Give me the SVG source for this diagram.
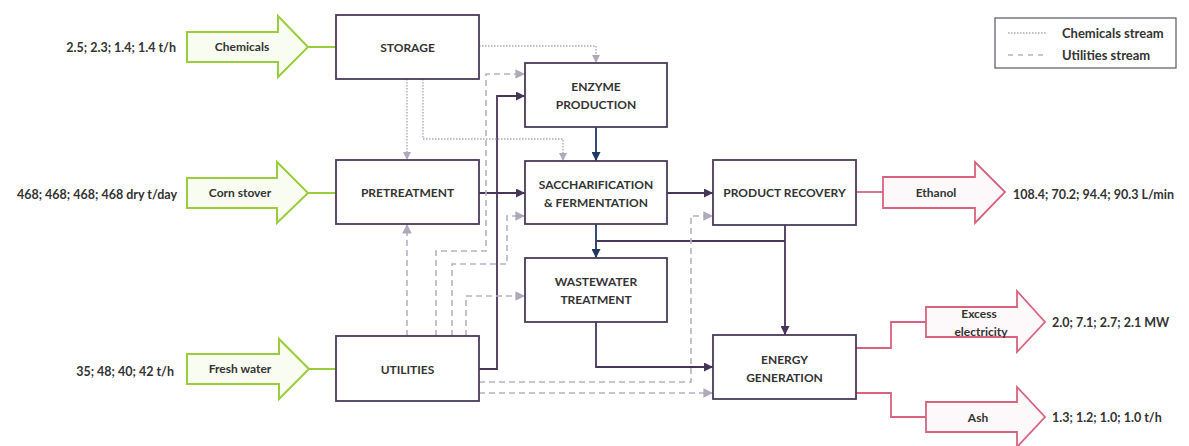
<svg xmlns="http://www.w3.org/2000/svg" width="1189" height="446" viewBox="0 0 1189 446">
<defs>
<style>
.box{fill:#fff;stroke:#4a3b5a;stroke-width:1.8}
.lbl{font-family:Lato,"Liberation Sans",sans-serif;font-weight:700;font-size:12px;fill:#333;text-anchor:middle;dominant-baseline:central}
.side{font-family:Lato,"Liberation Sans",sans-serif;font-weight:700;font-size:12.5px;fill:#333;dominant-baseline:central}
.green{fill:#f9fcf0;stroke:#9acd3c;stroke-width:2}
.red{fill:#fdf8f9;stroke:#d9627e;stroke-width:1.8}
.gl{fill:none;stroke:#9acd3c;stroke-width:2}
.rl{fill:none;stroke:#d9627e;stroke-width:1.8}
.solid{fill:none;stroke:#46365a;stroke-width:1.8}
.navy{fill:none;stroke:#1f3864;stroke-width:1.8}
.dot{fill:none;stroke:#aea6ba;stroke-width:1.4;stroke-dasharray:1.5 1.5}
.dash{fill:none;stroke:#b8b1c3;stroke-width:1.6;stroke-dasharray:6 4}
</style>
<marker id="ms" viewBox="0 0 10 10" refX="10" refY="5" markerWidth="5" markerHeight="5" orient="auto"><path d="M0,0L10,5L0,10Z" fill="#46365a"/></marker>
<marker id="mn" viewBox="0 0 10 10" refX="10" refY="5" markerWidth="5" markerHeight="5" orient="auto"><path d="M0,0L10,5L0,10Z" fill="#1f3864"/></marker>
<marker id="mg" viewBox="0 0 10 10" refX="10" refY="5" markerWidth="6" markerHeight="6" orient="auto"><path d="M0,0L10,5L0,10Z" fill="#b0a8bc"/></marker>
</defs>
<rect width="1189" height="446" fill="#fff"/>

<g id="connectors">
<path class="gl" d="M308,47H336"/>
<path class="gl" d="M308,193H336"/>
<path class="gl" d="M308,369H336"/>
<path class="rl" d="M856,192H883"/>
<path class="rl" d="M856,348H891V322H926"/>
<path class="rl" d="M856,393H891V417H926"/>
<path class="solid" d="M479,193H525" marker-end="url(#ms)"/>
<path class="solid" d="M667,193H713" marker-end="url(#ms)"/>
<path class="solid" d="M479,369H497V96H525" marker-end="url(#ms)"/>
<path class="navy" d="M596,127V161" marker-end="url(#mn)"/>
<path class="navy" d="M596,224V258" marker-end="url(#mn)"/>
<path class="solid" d="M596,241H785"/>
<path class="solid" d="M785,225V335" marker-end="url(#ms)"/>
<path class="solid" d="M596,322V367H713" marker-end="url(#ms)"/>
<path class="dot" d="M479,46H596V63" marker-end="url(#mg)"/>
<path class="dot" d="M407,79V160" marker-end="url(#mg)"/>
<path class="dot" d="M423,79V139H563V161" marker-end="url(#mg)"/>
<path class="dash" d="M407,336V224" marker-end="url(#mg)"/>
<path class="dash" d="M436,336V251H486V74H525" marker-end="url(#mg)"/>
<path class="dash" d="M452,336V264H507V216H525" marker-end="url(#mg)"/>
<path class="dash" d="M466,336V296H525" marker-end="url(#mg)"/>
<path class="dash" d="M479,382H691V216H713" marker-end="url(#mg)"/>
<path class="dash" d="M479,393H713" marker-end="url(#mg)"/>
</g>

<g id="storage"><rect class="box" x="336" y="15" width="143" height="64"/><text class="lbl" x="407.5" y="47">STORAGE</text></g>
<g id="enzyme-production"><rect class="box" x="525" y="63" width="142" height="64"/><text class="lbl" x="596" y="86">ENZYME</text><text class="lbl" x="596" y="104">PRODUCTION</text></g>
<g id="pretreatment"><rect class="box" x="336" y="160" width="143" height="64"/><text class="lbl" x="407.5" y="192">PRETREATMENT</text></g>
<g id="saccharification"><rect class="box" x="525" y="161" width="142" height="63"/><text class="lbl" x="596" y="184">SACCHARIFICATION</text><text class="lbl" x="596" y="202">&amp; FERMENTATION</text></g>
<g id="product-recovery"><rect class="box" x="713" y="160" width="143" height="65"/><text class="lbl" x="784.5" y="192">PRODUCT RECOVERY</text></g>
<g id="wastewater-treatment"><rect class="box" x="525" y="258" width="142" height="64"/><text class="lbl" x="596" y="281">WASTEWATER</text><text class="lbl" x="596" y="299">TREATMENT</text></g>
<g id="utilities"><rect class="box" x="336" y="336" width="143" height="65"/><text class="lbl" x="407.5" y="369">UTILITIES</text></g>
<g id="energy-generation"><rect class="box" x="713" y="335" width="143" height="64"/><text class="lbl" x="784.5" y="359">ENERGY</text><text class="lbl" x="784.5" y="377">GENERATION</text></g>

<g id="chemicals-in"><path class="green" d="M187,32H278V16L308,47L278,77V62H187Z"/><text class="lbl" x="242" y="46">Chemicals</text><text class="side" x="176" y="47" text-anchor="end">2.5; 2.3; 1.4; 1.4 t/h</text></g>
<g id="corn-stover-in"><path class="green" d="M187,178H277V162L308,193L277,223V208H187Z"/><text class="lbl" x="240" y="192">Corn stover</text><text class="side" x="177" y="194" text-anchor="end">468; 468; 468; 468 dry t/day</text></g>
<g id="fresh-water-in"><path class="green" d="M187,354H279V339L309,369L279,399V384H187Z"/><text class="lbl" x="240" y="368">Fresh water</text><text class="side" x="174" y="371" text-anchor="end">35; 48; 40; 42 t/h</text></g>
<g id="ethanol-out"><path class="red" d="M883,177H975V162L1005,192L975,223V208H883Z"/><text class="lbl" x="936" y="192">Ethanol</text><text class="side" x="1013" y="194">108.4; 70.2; 94.4; 90.3 L/min</text></g>
<g id="electricity-out"><path class="red" d="M926,307H1017V291L1045,322L1017,352V337H926Z"/><text class="lbl" x="979" y="313">Excess</text><text class="lbl" x="981" y="331">electricity</text><text class="side" x="1052" y="322">2.0; 7.1; 2.7; 2.1 MW</text></g>
<g id="ash-out"><path class="red" d="M926,402H1017V387L1045,417L1017,447V432H926Z"/><text class="lbl" x="978" y="417">Ash</text><text class="side" x="1052" y="417">1.3; 1.2; 1.0; 1.0 t/h</text></g>

<g id="legend">
<rect x="995" y="18" width="181" height="50" fill="#fff" stroke="#5a5466" stroke-width="1.2"/>
<path class="dot" d="M1008,33H1047"/>
<path class="dash" d="M1008,55H1047" style="stroke-dasharray:5 5"/>
<text class="side" x="1062" y="33" style="font-size:13px">Chemicals stream</text>
<text class="side" x="1062" y="55" style="font-size:13px">Utilities stream</text>
</g>
</svg>
